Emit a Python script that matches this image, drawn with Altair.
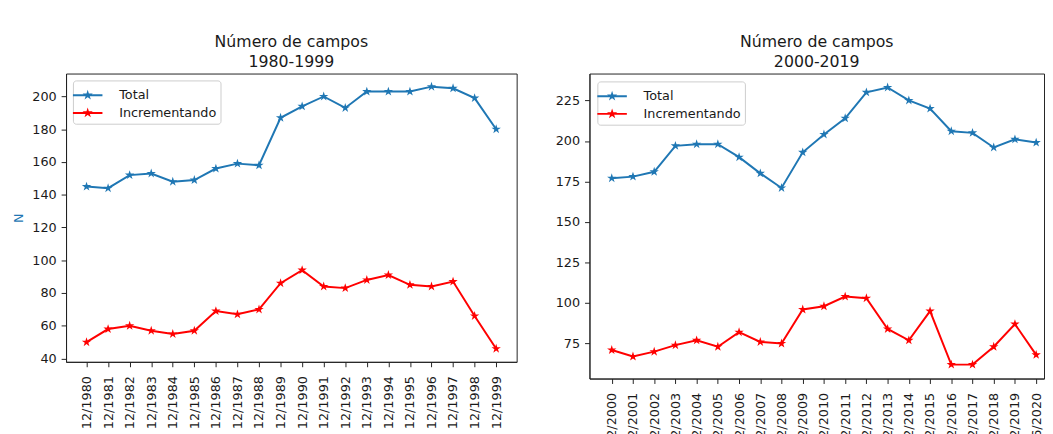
import altair as alt
import pandas as pd

# ---------------- data ----------------
labels_a = ["12/1980", "12/1981", "12/1982", "12/1983", "12/1984", "12/1985",
            "12/1986", "12/1987", "12/1988", "12/1989", "12/1990", "12/1991",
            "12/1992", "12/1993", "12/1994", "12/1995", "12/1996", "12/1997",
            "12/1998", "12/1999"]
total_a = [145, 144, 152, 153, 148, 149, 156, 159, 158, 187, 194, 200,
           193, 203, 203, 203, 206, 205, 199, 180]
incr_a = [50, 58, 60, 57, 55, 57, 69, 67, 70, 86, 94, 84,
          83, 88, 91, 85, 84, 87, 66, 46]

labels_b = ["12/2000", "12/2001", "12/2002", "12/2003", "12/2004", "12/2005",
            "12/2006", "12/2007", "12/2008", "12/2009", "12/2010", "12/2011",
            "12/2012", "12/2013", "12/2014", "12/2015", "12/2016", "12/2017",
            "12/2018", "12/2019", "06/2020"]
total_b = [177, 178, 181, 197, 198, 198, 190, 180, 171, 193, 204, 214,
           230, 233, 225, 220, 206, 205, 196, 201, 199]
incr_b = [71, 67, 70, 74, 77, 73, 82, 76, 75, 96, 98, 104,
          103, 84, 77, 95, 62, 62, 73, 87, 68]

series = ["Total", "Incrementando"]
colors = ["#1f77b4", "#ff0000"]

FONT = "DejaVu Sans"
TXT = "#1a1a1a"
FRAME = "#222222"

# 5-point star marker (unit path) and legend symbol (line + star)
STAR = ("M0,-1L0.2245,-0.309L0.951,-0.309L0.363,0.118L0.588,0.809"
        "L0,0.382L-0.588,0.809L-0.363,0.118L-0.951,-0.309L-0.2245,-0.309Z")
LEG_PATH = ("M-1.5,0L1.5,0"
            "M0,-0.225L0.051,-0.07L0.214,-0.07L0.082,0.027L0.132,0.182"
            "L0,0.086L-0.132,0.182L-0.082,0.027L-0.214,-0.07L-0.051,-0.07Z")


def make_df(labels, total, incr):
    rows = []
    for name, vals in zip(series, [total, incr]):
        for i, (lab, v) in enumerate(zip(labels, vals)):
            rows.append({"i": i, "label": lab, "serie": name, "v": v})
    return pd.DataFrame(rows)


def panel(labels, total, incr, title, xdom, ydom, yvals, width, height,
          ytitle, loff):
    df = make_df(labels, total, incr)
    expr = "[" + ",".join("'%s'" % l for l in labels) + "][datum.value]"
    xs = alt.Scale(domain=xdom, nice=False, zero=False)
    ys = alt.Scale(domain=ydom, nice=False, zero=False)
    xaxis = alt.Axis(values=list(range(len(labels))), labelExpr=expr,
                     labelAngle=270, labelOverlap=False, labelFlush=False,
                     title=None, labelPadding=9)
    if ytitle:
        yaxis = alt.Axis(values=yvals, labelOverlap=False, title=ytitle,
                         titleColor="#1f77b4", titleFontSize=13,
                         titleFontWeight="normal", titlePadding=6)
    else:
        yaxis = alt.Axis(values=yvals, labelOverlap=False, title=None)
    leg = alt.Legend(title=None, orient="top-left", offset=loff,
                     symbolType=LEG_PATH, symbolSize=400,
                     symbolStrokeWidth=2, labelOffset=21)
    color = alt.Color("serie:N", sort=series,
                      scale=alt.Scale(domain=series, range=colors),
                      legend=leg)
    base = alt.Chart(df)
    line = base.mark_line(strokeWidth=2).encode(
        x=alt.X("i:Q", scale=xs, axis=xaxis),
        y=alt.Y("v:Q", scale=ys, axis=yaxis),
        color=color,
    )
    pts = base.mark_point(shape=STAR, filled=True, size=100, opacity=1).encode(
        x=alt.X("i:Q", scale=xs, axis=xaxis),
        y=alt.Y("v:Q", scale=ys, axis=yaxis),
        color=color,
    )
    return (
        alt.layer(line, pts)
        .properties(width=width, height=height,
                    title=alt.TitleParams(text=title))
    )


left = panel(labels_a, total_a, incr_a,
             ["", "Número de campos", "1980-1999"],
             [-0.95, 19.95], [38, 214], list(range(40, 201, 20)),
             458, 293, "N", 7)
right = panel(labels_b, total_b, incr_b, ["Número de campos", "2000-2019"],
              [-1.05, 20.37], [53.4, 241.6], list(range(75, 226, 25)),
              462, 310, None, 8)

chart = (
    alt.hconcat(left, right, spacing=37)
    .resolve_scale(color="independent")
    .properties(padding={"left": 4, "top": 2, "right": 0, "bottom": 0})
    .configure_view(stroke=FRAME, strokeWidth=1)
    .configure_axis(
        grid=False, labelFont=FONT, labelFontSize=13, labelColor=TXT,
        titleFont=FONT, domainColor=FRAME, domainWidth=1,
        tickColor=FRAME, tickWidth=1, tickSize=5,
    )
    .configure_axisY(labelPadding=5)
    .configure_title(font=FONT, fontSize=16, fontWeight="normal", color=TXT,
                     lineHeight=20, offset=4, anchor="middle")
    .configure_legend(
        labelFont=FONT, labelFontSize=13, labelColor=TXT,
        fillColor="rgba(255,255,255,0.8)", strokeColor="#cccccc",
        cornerRadius=3, padding=4, rowPadding=0,
    )
)

chart.save("out.html", embed_options={"renderer": "svg", "actions": False})
